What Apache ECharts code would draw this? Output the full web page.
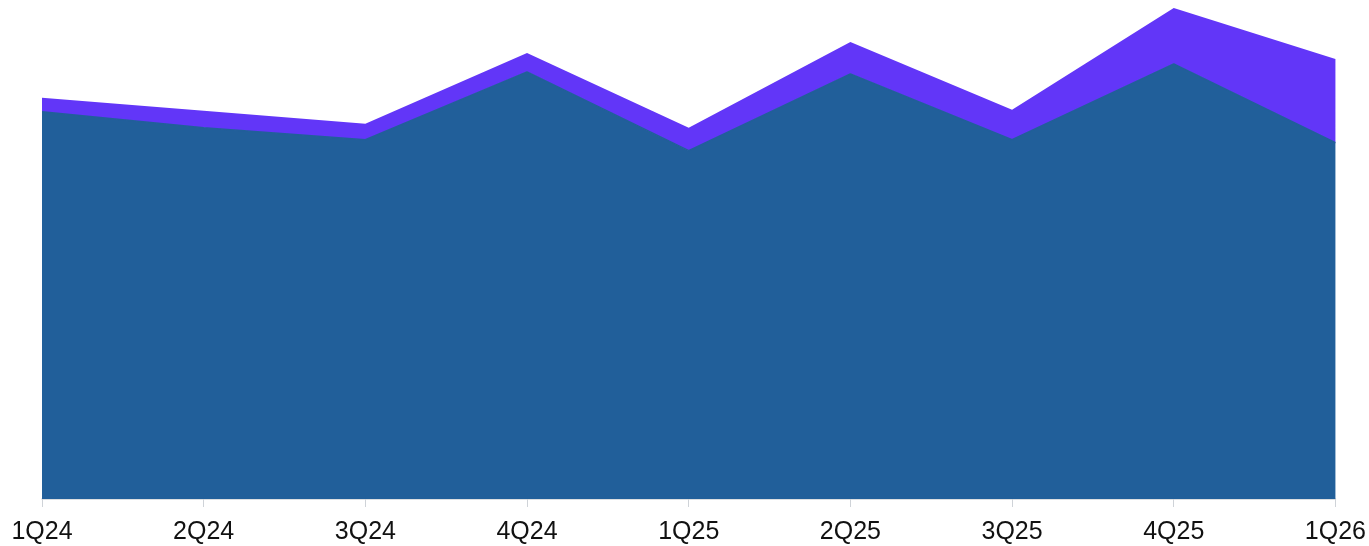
<!DOCTYPE html>
<html lang="en">
<head>
    <meta charset="UTF-8">
    <title>Quarterly stacked area</title>
    <script type="text/javascript" src="https://cdn.jsdelivr.net/npm/echarts@6/dist/echarts.min.js"></script>
    <style>
        html, body { margin: 0; padding: 0; background: #fff; }
    </style>
</head>
<body>
<div id="area" style="width: 1369px;height:546px;"></div>
<script>
    // categories on the x axis
    var quarters = ['1Q24', '2Q24', '3Q24', '4Q24', '1Q25', '2Q25', '3Q25', '4Q25', '1Q26'];
    // lower (blue) layer
    var baseValues = [388, 372, 360, 428, 349, 426, 360, 436, 357];
    // upper (purple) layer, stacked on top of the blue one
    var topValues = [14, 17, 16, 19, 23, 32, 30, 56, 84];

    var option = {
        animation: false,
        grid: {
            left: 42,
            right: 33,
            top: 0,
            bottom: 45
        },
        xAxis: {
            type: 'category',
            boundaryGap: false,
            data: quarters,
            axisLine: { lineStyle: { color: '#cfd3d8', width: 1.5 } },
            axisTick: { show: true, length: 8, lineStyle: { color: '#cfd3d8' } },
            axisLabel: {
                color: '#111',
                fontSize: 25,
                fontFamily: 'Liberation Sans, Arial, sans-serif',
                margin: 19,
                interval: 0
            }
        },
        yAxis: {
            type: 'value',
            min: -2,
            max: 500,
            show: false,
            splitLine: { show: false }
        },
        series: [{
            name: 'base',
            type: 'line',
            stack: 'total',
            z: 3,
            data: baseValues,
            symbol: 'none',
            lineStyle: { width: 1.5, color: '#215f9a' },
            areaStyle: { color: '#215f9a', opacity: 1 }
        }, {
            name: 'top',
            type: 'line',
            stack: 'total',
            z: 2,
            data: topValues,
            symbol: 'none',
            lineStyle: { width: 0 },
            areaStyle: { color: '#6236f8', opacity: 1 }
        }]
    };
    var myChart = echarts.init(document.getElementById('area'));
    myChart.setOption(option);
</script>
</body>
</html>
